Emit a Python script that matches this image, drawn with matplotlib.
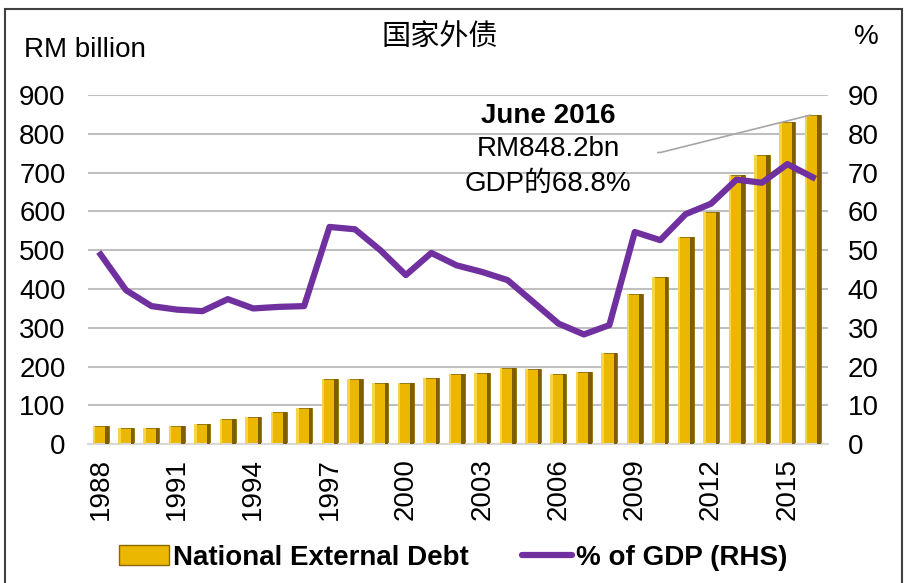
import numpy as np
import matplotlib
matplotlib.use('Agg')
import matplotlib.pyplot as plt
from matplotlib.patches import Patch, Rectangle
from matplotlib.lines import Line2D

plt.rcParams['font.family'] = ['Liberation Sans', 'Noto Sans CJK SC', 'DejaVu Sans']

# Data
years = np.arange(1988, 2017)
debt = [46, 42, 42, 47, 52, 66, 70, 82, 94, 167, 167, 159, 157, 171, 182, 184,
        197, 193, 181, 185, 234, 387, 431, 534, 599, 693, 745, 831, 848.2]
pct_gdp = [48.9, 39.7, 35.6, 34.7, 34.3, 37.4, 35.0, 35.4, 35.6, 56.0, 55.4, 50.0,
           43.6, 49.3, 46.1, 44.4, 42.3, 36.7, 31.1, 28.3, 30.7, 54.7, 52.6, 59.3,
           62.0, 68.2, 67.4, 72.2, 68.8]
year_ticks = years[::3]

gold = '#EBB700'
purple = '#7030A0'
fs = 20

fig = plt.figure(figsize=(9.06, 5.83), dpi=100, facecolor='w')
ax = fig.add_axes([0.097, 0.238, 0.817, 0.599])
ax2 = ax.twinx()

w = 0.63
ax.bar(years, debt, width=w, color=gold, edgecolor='#8A6A00', linewidth=0.6, zorder=2)
# fake bevel: light left strip, dark right strip
ax.bar(years - w * 0.5, debt, width=w * 0.16, align='edge', color='#F7D448', linewidth=0, zorder=3)
ax.bar(years + w * 0.5, debt, width=-w * 0.22, align='edge', color='#7E5E00', linewidth=0, zorder=3)

ax2.plot(years, pct_gdp, color=purple, lw=4.5, solid_joinstyle='round', zorder=4)

ax.set_xlim(1987.5, 2016.6)
ax.set_ylim(0, 900)
ax2.set_ylim(0, 90)
ax.set_yticks(np.arange(0, 901, 100))
ax2.set_yticks(np.arange(0, 91, 10))
ax.set_xticks(year_ticks)
ax.set_xticklabels([str(y) for y in year_ticks], rotation=90, fontsize=fs)
ax.tick_params(axis='y', labelsize=fs, length=0, pad=16)
ax2.tick_params(axis='y', labelsize=fs, length=0, pad=14)
ax.tick_params(axis='x', length=0, pad=10)
ax.grid(axis='y', color='#C0C0C0', lw=1.5, zorder=0)
ax.set_axisbelow(True)
for a in (ax, ax2):
    for s in a.spines.values():
        s.set_visible(False)
ax.spines['bottom'].set_visible(True)
ax.spines['bottom'].set_color('#D9D9D9')
ax.spines['bottom'].set_linewidth(1.5)

fig.text(0.485, 0.937, '国家外债', ha='center', va='center', fontsize=21)
fig.text(0.026, 0.915, 'RM billion', ha='left', va='center', fontsize=fs)
fig.text(0.956, 0.937, '%', ha='center', va='center', fontsize=fs)

# annotation for June 2016
ax.text(2005.6, 846, 'June 2016', ha='center', va='center', fontsize=fs, fontweight='bold')
ax.text(2005.6, 762, 'RM848.2bn', ha='center', va='center', fontsize=fs)
ax.text(2005.6, 670, 'GDP的68.8%', ha='center', va='center', fontsize=fs)
ax.annotate('', xy=(years[-1] - 0.1, debt[-1]), xytext=(2009.9, 752),
            arrowprops=dict(arrowstyle='-', color='#A6A6A6', lw=1.2,
                            connectionstyle='angle,angleA=0,angleB=14,rad=0',
                            shrinkA=0, shrinkB=0))

handles = [Patch(facecolor=gold, edgecolor='#8A6A00'),
           Line2D([0], [0], color=purple, lw=4.5, solid_capstyle='round')]
leg = fig.legend(handles, ['National External Debt', '% of GDP (RHS)'],
                 loc='center', bbox_to_anchor=(0.5, 0.043), ncol=2, frameon=False,
                 prop={'size': fs, 'weight': 'bold'}, handlelength=1.8,
                 handletextpad=0.15, columnspacing=1.9)

fig.patches.append(Rectangle((0.006, -0.01), 0.99, 0.995, transform=fig.transFigure,
                             fill=False, edgecolor='#404040', lw=1.5))

fig.savefig('out.png', dpi=100, facecolor='w')
